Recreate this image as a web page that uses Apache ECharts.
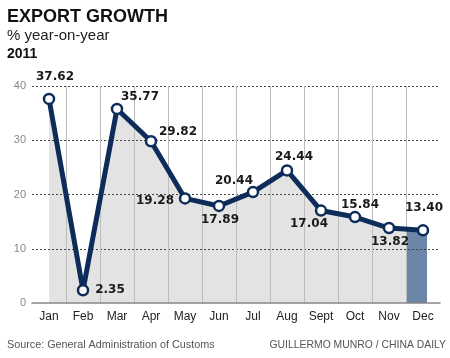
<!DOCTYPE html>
<html>
<head>
<meta charset="utf-8">
<script src="https://cdn.jsdelivr.net/npm/echarts@6/dist/echarts.min.js"></script>
<style>
html,body{margin:0;padding:0;background:#fff;}
#chart{width:450px;height:358px;}
</style>
</head>
<body>
<div id="chart"></div>
<script>
const months = ['Jan','Feb','Mar','Apr','May','Jun','Jul','Aug','Sept','Oct','Nov','Dec'];
const growth = [37.62, 2.35, 35.77, 29.82, 19.28, 17.89, 20.44, 24.44, 17.04, 15.84, 13.82, 13.40];
const highlightMonth = 'Dec';
const yTicks = [0, 10, 20, 30, 40];
const labelOffsets = [[6,-22],[27,0],[23,-12],[27,-9],[-30,2],[1,14],[-19,-11],[7,-14],[-12,13],[5,-12],[1,14],[1,-22]];

const chart = echarts.init(document.getElementById('chart'), null, {renderer:'canvas'});
const NAVY = '#0d2c5a';
const FONT = '"Liberation Sans", Arial, sans-serif';

const lineData = growth.map((v,i)=>({
  value: v,
  label: {offset: labelOffsets[i]}
}));
const hlData = months.map((m,i)=> m === highlightMonth ? growth[i] : '-');

chart.setOption({
  animation:false,
  backgroundColor:'#fff',
  textStyle:{fontFamily:FONT},
  grid:{left:32, right:10, top:86, bottom:55, containLabel:false},
  graphic:[
    {type:'text', left:7, top:8, style:{text:'EXPORT GROWTH', font:'bold 18px ' + FONT, fill:'#111'}},
    {type:'text', left:7, top:28, style:{text:'% year-on-year', font:'15px ' + FONT, fill:'#222'}},
    {type:'text', left:7, top:47, style:{text:'2011', font:'bold 14px ' + FONT, fill:'#111'}},
    {type:'text', left:7, top:340, style:{text:'Source: General Administration of Customs', font:'10.8px ' + FONT, fill:'#555'}},
    {type:'text', right:4, top:340, style:{text:'GUILLERMO MUNRO / CHINA DAILY', font:'10.4px ' + FONT, fill:'#555'}}
  ],
  xAxis:{
    type:'category', data:months, boundaryGap:true, z:3,
    axisLine:{show:true, lineStyle:{color:'#888', width:1.5}},
    axisTick:{show:false},
    axisLabel:{color:'#222', fontSize:12, margin:8, interval:0, fontFamily:FONT},
    splitLine:{show:true, interval:0, showMinLine:false, showMaxLine:false, lineStyle:{color:'#bdbdbd', width:1}}
  },
  yAxis:{
    type:'value', min:yTicks[0], max:yTicks[yTicks.length-1], interval:10, z:3,
    axisLine:{show:false}, axisTick:{show:false},
    axisLabel:{color:'#888', fontSize:11, margin:6, fontFamily:FONT},
    splitLine:{show:true, showMinLine:false, lineStyle:{color:'#444', width:1, type:[2,2]}}
  },
  series:[
    {
      name:'area', type:'line', data:growth, z:1, symbol:'none', silent:true,
      lineStyle:{width:0}, areaStyle:{color:'#e3e3e3', opacity:1}
    },
    {
      name:'highlight', type:'bar', data:hlData, z:2, barWidth:21, barGap:'0%',
      itemStyle:{color:'#6b86a8'}
    },
    {
      name:'pad', type:'bar', data:months.map(()=> '-'), z:2, barWidth:13, barGap:'0%',
      itemStyle:{color:'transparent'}
    },
    {
      name:'growth', type:'line', data:lineData, z:5,
      symbol:'circle', symbolSize:10,
      lineStyle:{color:NAVY, width:5},
      itemStyle:{color:'#fff', borderColor:NAVY, borderWidth:2.5},
      label:{show:true, position:'inside', align:'center', verticalAlign:'middle',
        color:'#1a1a1a', fontWeight:'bold', fontSize:12, fontFamily:'"DejaVu Sans", sans-serif',
        formatter:(p)=> p.value.toFixed(2)}
    }
  ]
});
</script>
</body>
</html>
